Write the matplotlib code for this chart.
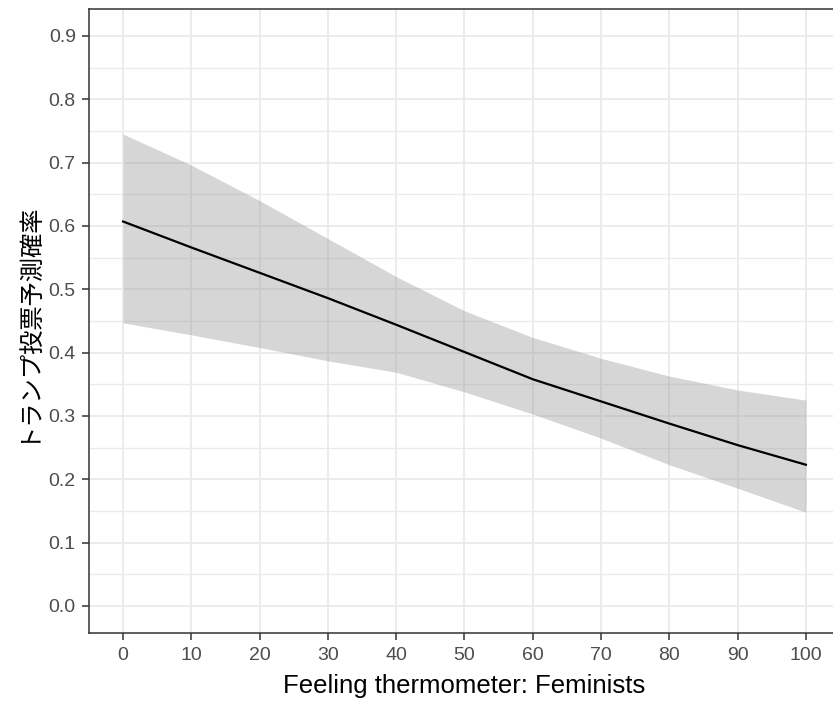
import matplotlib.pyplot as plt
from matplotlib.ticker import MultipleLocator

plt.rcParams["font.family"] = ["Liberation Sans", "Noto Sans CJK JP", "DejaVu Sans"]

# predicted probability of a Trump vote by feminist feeling thermometer
therm = [0, 10, 20, 30, 40, 50, 60, 70, 80, 90, 100]
pred = [0.607, 0.566, 0.526, 0.486, 0.444, 0.401, 0.358, 0.323, 0.288, 0.254, 0.223]
upper = [0.745, 0.696, 0.640, 0.580, 0.520, 0.466, 0.424, 0.391, 0.363, 0.341, 0.325]
lower = [0.447, 0.428, 0.408, 0.387, 0.369, 0.338, 0.303, 0.265, 0.223, 0.186, 0.148]

x_ticks = list(range(0, 101, 10))
y_ticks = [0.0, 0.1, 0.2, 0.3, 0.4, 0.5, 0.6, 0.7, 0.8, 0.9]

fig = plt.figure(figsize=(8.33, 7.04), dpi=100)
# panel runs past the right edge of the image, as in the original crop
ax = fig.add_axes([0.1068, 0.1009, 0.9016, 0.8864])

ax.fill_between(therm, lower, upper, color="#999999", alpha=0.4, linewidth=0, zorder=2)
ax.plot(therm, pred, color="black", linewidth=1.6, zorder=3)

ax.set_xlim(-5, 105)
ax.set_ylim(-0.0426, 0.9426)
ax.set_xticks(x_ticks)
ax.set_yticks(y_ticks)
ax.set_yticklabels([f"{v:.1f}" for v in y_ticks])
ax.yaxis.set_minor_locator(MultipleLocator(0.05))
ax.tick_params(axis="y", which="minor", length=0)

# theme_bw-ish look
ax.grid(True, which="major", color="#EBEBEB", linewidth=1.3, zorder=0)
ax.grid(True, which="minor", axis="y", color="#EBEBEB", linewidth=1.0, zorder=0)
ax.set_axisbelow(True)
for side in ax.spines.values():
    side.set_color("#333333")
    side.set_linewidth(1.1)
ax.tick_params(axis="both", which="major", colors="#333333", labelcolor="#4D4D4D",
               labelsize=14, length=5, width=1.1, pad=5)
ax.tick_params(axis="y", which="major", pad=4.5)

ax.set_xlabel("Feeling thermometer: Feminists", fontsize=18.5, color="black", labelpad=7)
ax.set_ylabel("トランプ投票予測確率", fontsize=17.5, color="black", labelpad=8)

fig.savefig("out.png", dpi=100)
